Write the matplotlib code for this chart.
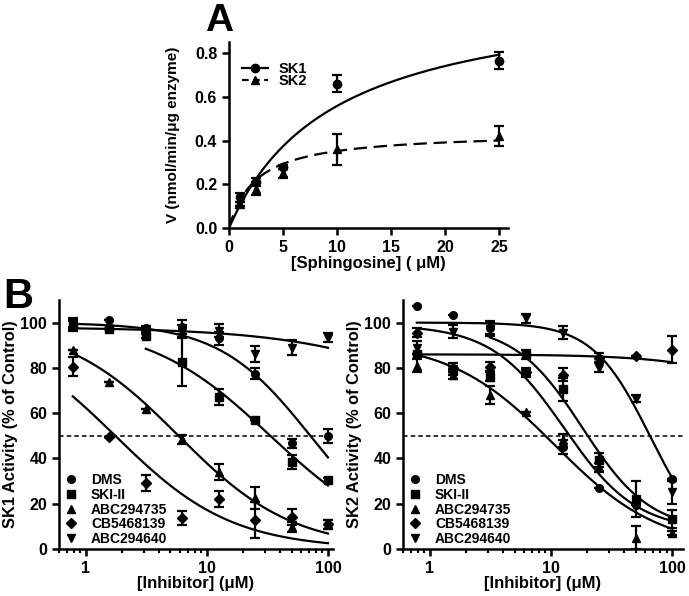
import numpy as np
import matplotlib.pyplot as plt
from matplotlib.lines import Line2D
from matplotlib.ticker import LogLocator, NullFormatter, FixedLocator, FixedFormatter

plt.rcParams['font.family'] = ['Liberation Sans', 'DejaVu Sans']
plt.rcParams['font.weight'] = 'bold'
plt.rcParams['axes.labelweight'] = 'bold'
plt.rcParams['axes.linewidth'] = 1.8

# ---- Panel A data: sphingosine kinetics ----
sph = [1, 2.5, 5, 10, 25]
sk1_v = [0.14, 0.21, 0.28, 0.66, 0.765]
sk1_err = [0.02, 0.02, 0.01, 0.04, 0.04]
sk2_v = [0.11, 0.18, 0.25, 0.36, 0.42]
sk2_err = [0.01, 0.03, 0.02, 0.07, 0.045]
# Michaelis-Menten fit (Vmax, Km)
sk1_fit = [1.10, 9.7]
sk2_fit = [0.44, 2.5]

# ---- Panel B data: inhibitor dose response ----
conc = [0.78, 1.56, 3.125, 6.25, 12.5, 25, 50, 100]
names = ['DMS', 'SKI-II', 'ABC294735', 'CB5468139', 'ABC294640']
markers = ['o', 's', '^', 'D', 'v']

sk1_mean = {
    'DMS':       [100, 101, 97.5, 98, 93, 77.5, 46.7, 50],
    'SKI-II':    [98.5, 97, 94.3, 82.8, 67, 56.8, 38.3, 30.4],
    'ABC294735': [88, 73.6, 61.7, 48.4, 34, 22.5, 9.7, 11],
    'CB5468139': [80.6, 49.3, 29, 13.7, 22, 12.8, 14.1, 11],
    'ABC294640': [99, 97, 96, 96, 96.5, 86.3, 89, 93.4],
}
sk1_sem = {
    'DMS':       [2, 0, 1, 3, 3, 2.5, 2, 3],
    'SKI-II':    [2, 0, 1, 11, 3.5, 0, 3, 1],
    'ABC294735': [0, 0, 0, 2, 3.5, 5, 2, 2],
    'CB5468139': [4, 0, 3.5, 3, 3.5, 8, 3.5, 2],
    'ABC294640': [2, 0, 1, 3, 3, 3.5, 3.5, 2],
}
sk2_mean = {
    'DMS':       [107.5, 103.5, 97.8, 78, 45, 27, 19.5, 31],
    'SKI-II':    [86, 79, 76, 86, 70.5, 39.4, 22, 13.3],
    'ABC294735': [81, 77, 68, 60.6, 48, 36, 5, 7],
    'CB5468139': [95.5, 80, 80.5, 78, 77, 84.5, 85.4, 88],
    'ABC294640': [89, 96, 97, 102, 95.6, 80, 66.4, 25],
}
sk2_sem = {
    'DMS':       [0, 0, 3, 2, 3, 0, 0, 0],
    'SKI-II':    [0, 2, 2, 2, 5, 3, 8, 4],
    'ABC294735': [3, 2, 4, 0, 3, 2, 5, 1],
    'CB5468139': [2, 2, 2, 1, 3, 2, 0, 6],
    'ABC294640': [3, 3, 3, 2, 3, 2, 1.5, 5],
}
# 4-parameter fits: top, bottom, IC50, hill, first conc of curve
sk1_fits = {
    'DMS':       [100, 0, 71.5, 1.15, 0.78],
    'SKI-II':    [100, 0, 33.4, 0.86, 3.125],
    'ABC294735': [100, 0, 5.83, 0.92, 0.78],
    'CB5468139': [100, 0, 1.75, 0.90, 0.78],
    'ABC294640': [98, 0, 4180, 0.61, 0.78],
}
sk2_fits = {
    'DMS':       [99, 8, 12.8, 1.45, 0.78],
    'SKI-II':    [99, 8, 18.2, 1.55, 3.125],
    'ABC294735': [92, 0, 10.7, 1.0, 0.78],
    'CB5468139': [86, 0, 3100, 0.92, 0.78],
    'ABC294640': [100, 0, 65.5, 1.84, 0.78],
}


def mm(x, vmax, km):
    return vmax * x / (km + x)


def logistic(x, top, bottom, ic50, hill):
    return bottom + (top - bottom) / (1 + (x / ic50) ** hill)


def prism_axes(ax):
    for s in ['top', 'right']:
        ax.spines[s].set_visible(False)
    ax.tick_params(which='major', direction='out', length=5, width=1.8,
                   labelsize=11.5)
    ax.tick_params(which='minor', direction='out', length=3, width=1.5)


fig = plt.figure(figsize=(6.89, 5.96), dpi=100)

# ---------------- Panel A ----------------
axA = fig.add_axes([0.3324, 0.6174, 0.405, 0.312])
xs = np.linspace(0, 25, 200)
axA.plot(xs, mm(xs, *sk1_fit), color='black', lw=1.6)
axA.plot(xs, mm(xs, *sk2_fit), color='black', lw=1.6, dashes=(6, 3))
axA.errorbar(sph, sk1_v, yerr=sk1_err, fmt='o', color='black', ms=6,
             capsize=3.5, elinewidth=1.6, capthick=1.6)
axA.errorbar(sph, sk2_v, yerr=sk2_err, fmt='^', color='black', ms=6,
             capsize=3.5, elinewidth=1.6, capthick=1.6)
axA.set_xlim(0, 25.8)
axA.set_ylim(0, 0.85)
axA.set_xticks([0, 5, 10, 15, 20, 25])
axA.set_yticks([0.0, 0.2, 0.4, 0.6, 0.8])
axA.set_yticklabels(['0.0', '0.2', '0.4', '0.6', '0.8'])
prism_axes(axA)
axA.set_xlabel('[Sphingosine] ( μM)', fontsize=12, labelpad=1)
axA.set_ylabel('V (nmol/min/μg enzyme)', fontsize=11, labelpad=11)
legA = [Line2D([], [], color='black', marker='o', lw=1.6, ms=6),
        Line2D([], [], color='black', marker='^', lw=1.6, ms=6, dashes=(3, 2))]
axA.legend(legA, ['SK1', 'SK2'], loc='upper left', bbox_to_anchor=(0.025, 0.925),
           frameon=False, fontsize=10.5, handlelength=1.8, handletextpad=0.7,
           labelspacing=-0.1, borderaxespad=0)
fig.text(0.298, 0.995, 'A', fontsize=28, fontweight='bold', va='top', ha='left')
fig.text(0.005, 0.536, 'B', fontsize=30, fontweight='bold', va='top', ha='left')


def dose_panel(ax, means, sems, fits, ylabel, xmax):
    for name, mk in zip(names, markers):
        top, bottom, ic50, hill, x0 = fits[name]
        xc = np.logspace(np.log10(x0), 2, 200)
        ax.plot(xc, logistic(xc, top, bottom, ic50, hill), color='black', lw=1.6)
        ms = 5 if mk == 'D' else 5.5
        ax.errorbar(conc, means[name], yerr=sems[name], fmt=mk, color='black',
                    ms=ms, capsize=3.5, elinewidth=1.6, capthick=1.6)
    ax.axhline(50, color='black', lw=1.1, dashes=(3, 2))
    ax.set_xscale('log')
    ax.set_xlim(0.6, xmax)
    ax.set_ylim(0, 110)
    ax.xaxis.set_major_locator(FixedLocator([1, 10, 100]))
    ax.xaxis.set_major_formatter(FixedFormatter(['1', '10', '100']))
    ax.xaxis.set_minor_locator(LogLocator(base=10, subs=np.arange(2, 10)))
    ax.xaxis.set_minor_formatter(NullFormatter())
    ax.set_yticks([0, 20, 40, 60, 80, 100])
    prism_axes(ax)
    ax.set_xlabel('[Inhibitor] (μM)', fontsize=12, labelpad=0)
    ax.set_ylabel(ylabel, fontsize=11.8, labelpad=2)
    handles = [Line2D([], [], color='black', marker=mk, lw=0,
                      ms=5 if mk == 'D' else 5.5) for mk in markers]
    ax.legend(handles, names, loc='lower left', bbox_to_anchor=(0.0, -0.01),
              frameon=False, fontsize=10, handlelength=1.0, handletextpad=0.9,
              labelspacing=0.05, borderaxespad=0)


axL = fig.add_axes([0.0856, 0.0789, 0.3977, 0.4178])
dose_panel(axL, sk1_mean, sk1_sem, sk1_fits, 'SK1 Activity (% of Control)', 110)
axR = fig.add_axes([0.5849, 0.0789, 0.4064, 0.4178])
dose_panel(axR, sk2_mean, sk2_sem, sk2_fits, 'SK2 Activity (% of Control)', 123)

fig.savefig('out.png', dpi=100)
